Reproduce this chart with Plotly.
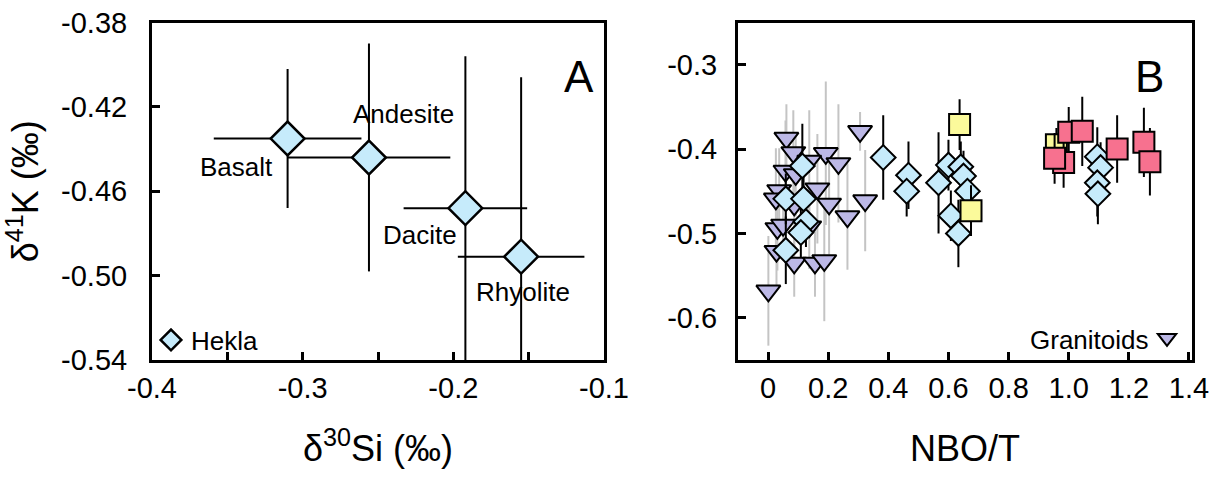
import plotly.graph_objects as go

# ---------------- Panel A : Hekla ----------------
hekla_names = ["Basalt", "Andesite", "Dacite", "Rhyolite"]
hekla_si = [-0.310, -0.256, -0.192, -0.155]
hekla_si_err = [0.049, 0.054, 0.041, 0.042]
hekla_k = [-0.435, -0.444, -0.468, -0.491]
hekla_k_err = [0.033, 0.054, 0.072, 0.085]

a_xticks = [-0.4, -0.3, -0.2, -0.1]
a_xticktext = ["-0.4", "-0.3", "-0.2", "-0.1"]
a_xminor = [-0.35, -0.25, -0.15]
a_yticks = [-0.54, -0.50, -0.46, -0.42, -0.38]
a_yticktext = ["-0.54", "-0.50", "-0.46", "-0.42", "-0.38"]

# ---------------- Panel B ----------------
gran_nbo = [0.061, 0.084, 0.192, 0.234, 0.058, 0.137, 0.092, 0.164, 0.037, 0.026,
            0.203, 0.087, 0.264, 0.031, 0.050, 0.137, 0.028, 0.087, 0.156, 0.187,
            0.001, 0.306, 0.323]
gran_k = [-0.387, -0.404, -0.405, -0.417, -0.426, -0.414, -0.430, -0.447, -0.449, -0.459,
          -0.465, -0.466, -0.480, -0.494, -0.490, -0.492, -0.521, -0.535, -0.535, -0.532,
          -0.568, -0.379, -0.461]
gran_err = [0.040, 0.050, 0.085, 0.070, 0.060, 0.060, 0.050, 0.065, 0.050, 0.060,
            0.060, 0.050, 0.063, 0.050, 0.040, 0.050, 0.040, 0.040, 0.040, 0.072,
            0.065, 0.023, 0.060]

volc_nbo = [0.114, 0.059, 0.118, 0.126, 0.109, 0.059, 0.383, 0.467, 0.461, 0.567,
            0.600, 0.641, 0.650, 0.663, 0.608, 0.633, 1.095, 1.106, 1.095, 1.097]
volc_k = [-0.420, -0.459, -0.459, -0.486, -0.499, -0.520, -0.410, -0.431, -0.450, -0.440,
          -0.419, -0.421, -0.432, -0.450, -0.479, -0.500, -0.409, -0.422, -0.440, -0.453]
volc_err = [0.050, 0.030, 0.030, 0.030, 0.030, 0.040, 0.050, 0.040, 0.030, 0.060,
            0.030, 0.030, 0.030, 0.030, 0.030, 0.040, 0.035, 0.030, 0.040, 0.036]

yel_nbo = [0.637, 0.675, 0.959]
yel_k = [-0.371, -0.473, -0.395]
yel_err = [0.030, 0.030, 0.020]

pink_nbo = [1.000, 1.045, 0.983, 0.953, 1.161, 1.250, 1.270]
pink_k = [-0.380, -0.379, -0.416, -0.411, -0.400, -0.392, -0.415]
pink_err = [0.030, 0.041, 0.030, 0.030, 0.040, 0.041, 0.040]

b_xticks = [0, 0.2, 0.4, 0.6, 0.8, 1.0, 1.2, 1.4]
b_xticktext = ["0", "0.2", "0.4", "0.6", "0.8", "1.0", "1.2", "1.4"]
b_yticks = [-0.6, -0.5, -0.4, -0.3]
b_yticktext = ["-0.6", "-0.5", "-0.4", "-0.3"]

FONT = "Liberation Sans, Arial, sans-serif"
C_BLUE = "#c6ebfb"
C_LAV = "#bcb8e6"
C_PINK = "#f7718f"
C_YEL = "#fbfa9b"

# plot-area geometry (margins) and helpers to convert pixel layout positions to paper coords
ML, MR, MT, MB = 60, 30, 20, 100
W, H = 1225, 481
PW, PH = W - ML - MR, H - MT - MB


def px(xp):
    return (xp - ML) / PW


def py(yp):
    return (H - MB - yp) / PH


fig = go.Figure()

fig.add_trace(go.Scatter(
    x=hekla_si, y=hekla_k, mode="markers", name="Hekla", xaxis="x", yaxis="y",
    marker=dict(symbol="diamond", size=26, color=C_BLUE, line=dict(color="black", width=2.5)),
    error_x=dict(type="data", array=hekla_si_err, color="black", thickness=2, width=0),
    error_y=dict(type="data", array=hekla_k_err, color="black", thickness=2, width=0),
    showlegend=True, legend="legend",
))

fig.add_trace(go.Scatter(
    x=gran_nbo, y=gran_k, mode="markers", name=" ", xaxis="x2", yaxis="y2",
    marker=dict(symbol="triangle-down", size=21, color=C_LAV, line=dict(color="black", width=2)),
    error_y=dict(type="data", array=gran_err, color="#c4c4c4", thickness=2, width=0),
    showlegend=True, legend="legend2",
))
fig.add_trace(go.Scatter(
    x=volc_nbo, y=volc_k, mode="markers", name="volc", xaxis="x2", yaxis="y2",
    marker=dict(symbol="diamond", size=19, color=C_BLUE, line=dict(color="black", width=2)),
    error_y=dict(type="data", array=volc_err, color="black", thickness=2, width=0),
    showlegend=False,
))
fig.add_trace(go.Scatter(
    x=yel_nbo, y=yel_k, mode="markers", name="yel", xaxis="x2", yaxis="y2",
    marker=dict(symbol="square", size=21, color=C_YEL, line=dict(color="black", width=2)),
    error_y=dict(type="data", array=yel_err, color="black", thickness=2, width=0),
    showlegend=False,
))
fig.add_trace(go.Scatter(
    x=pink_nbo, y=pink_k, mode="markers", name="pink", xaxis="x2", yaxis="y2",
    marker=dict(symbol="square", size=21, color=C_PINK, line=dict(color="black", width=2)),
    error_y=dict(type="data", array=pink_err, color="black", thickness=2, width=0),
    showlegend=False,
))

axis_common = dict(showline=True, mirror=True, linewidth=3, linecolor="black",
                   ticks="inside", ticklen=8, tickwidth=3, tickcolor="black",
                   showgrid=False, zeroline=False, automargin=False,
                   tickfont=dict(family=FONT, size=29, color="black"))

ydom = [py(360), py(22.5)]

fig.update_layout(
    width=W, height=H,
    margin=dict(l=ML, r=MR, t=MT, b=MB, autoexpand=False),
    paper_bgcolor="white", plot_bgcolor="white",
    font=dict(family=FONT, color="black"),
    xaxis=dict(domain=[px(152), px(604)], range=[-0.4, -0.1], anchor="y",
               tickvals=a_xticks, ticktext=a_xticktext, ticklabelstandoff=0,
               minor=dict(tickvals=a_xminor, ticks="inside", ticklen=8, tickwidth=3, tickcolor="black"),
               title=dict(text="δ<sup>30</sup>Si (‰)", font=dict(family=FONT, size=36), standoff=34),
               **axis_common),
    yaxis=dict(domain=ydom, range=[-0.54, -0.38], anchor="x",
               tickvals=a_yticks, ticktext=a_yticktext, ticklabelstandoff=16,
               title=dict(text="δ<sup>41</sup>K (‰)", font=dict(family=FONT, size=36), standoff=12),
               **axis_common),
    xaxis2=dict(domain=[px(738), px(1192)], range=[-0.1, 1.41], anchor="y2",
                tickvals=b_xticks, ticktext=b_xticktext, ticklabelstandoff=0,
                title=dict(text="NBO/T", font=dict(family=FONT, size=36), standoff=34),
                **axis_common),
    yaxis2=dict(domain=ydom, range=[-0.65, -0.25], anchor="x2",
                tickvals=b_yticks, ticktext=b_yticktext, ticklabelstandoff=12,
                **axis_common),
    legend=dict(x=px(151), y=py(340), xanchor="left", yanchor="middle",
                bgcolor="rgba(0,0,0,0)", font=dict(family=FONT, size=26),
                itemwidth=30, tracegroupgap=0),
    legend2=dict(x=px(1147), y=py(338), xanchor="left", yanchor="middle",
                 bgcolor="rgba(0,0,0,0)", font=dict(family=FONT, size=26),
                 itemwidth=30),
)

ann_font = dict(family=FONT, size=26, color="black")
fig.add_annotation(x=-0.2334, y=-0.4232, xref="x", yref="y", text="Andesite", showarrow=False, font=ann_font)
fig.add_annotation(x=-0.3436, y=-0.4484, xref="x", yref="y", text="Basalt", showarrow=False, font=ann_font)
fig.add_annotation(x=-0.2221, y=-0.4807, xref="x", yref="y", text="Dacite", showarrow=False, font=ann_font)
fig.add_annotation(x=-0.1538, y=-0.5077, xref="x", yref="y", text="Rhyolite", showarrow=False, font=ann_font)
fig.add_annotation(x=px(579), y=py(50), xref="paper", yref="paper", text="A", showarrow=False,
                   font=dict(family=FONT, size=44, color="black"))
fig.add_annotation(x=px(1166), y=py(50), xref="paper", yref="paper", text="B", showarrow=False,
                   font=dict(family=FONT, size=44, color="black"))
fig.add_annotation(x=px(1151), y=py(340), xref="paper", yref="paper", text="Granitoids", showarrow=False,
                   xanchor="right", yanchor="middle", font=ann_font)

fig.write_html("out.html")
